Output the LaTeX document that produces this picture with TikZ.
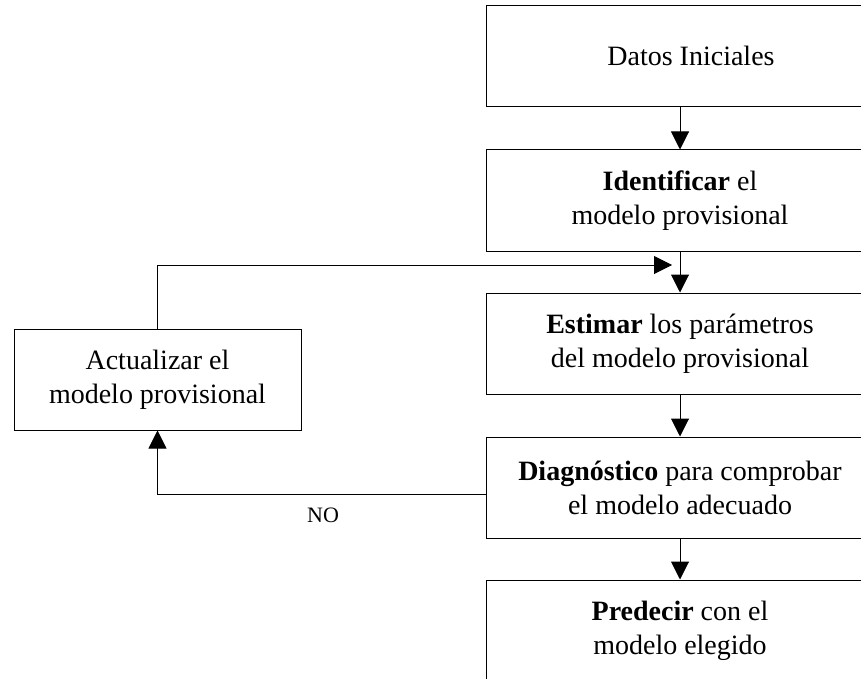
\documentclass[tikz,border=0pt]{standalone}
\usepackage{fontspec}
\setmainfont{Liberation Serif}
\usetikzlibrary{arrows.meta}
\begin{document}
\begin{tikzpicture}[x=1pt,y=-1pt,
  stepbox/.style={draw=black,line width=1pt,fill=white,rectangle,
    minimum width=388pt,minimum height=101pt,inner sep=0pt,align=center,
    font=\fontsize{28}{34}\selectfont},
  sidebox/.style={stepbox,minimum width=287pt},
  flow/.style={line width=1pt,-{Triangle[width=18pt,length=18pt]}},
  lbl/.style={font=\fontsize{22}{26}\selectfont,inner sep=0pt}]
\useasboundingbox (0,0) rectangle (861,679);
\clip (0,0) rectangle (861,679);
\fill[white] (0,0) rectangle (861,679);

% main column
\node[stepbox] (datos) at (680,56) {\hspace*{22pt}Datos Iniciales};
\node[stepbox] (ident) at (680,200.5) {\textbf{Identificar} el\\modelo provisional};
\node[stepbox] (estim) at (680,343.5) {\textbf{Estimar} los parámetros\\del modelo provisional};
\node[stepbox] (diag)  at (680,487.5) {\textbf{Diagnóstico} para comprobar\\el modelo adecuado};
\node[stepbox] (pred)  at (680,630.5) {\textbf{Predecir} con el\\modelo elegido};

% feedback box
\node[sidebox] (act) at (157.5,379.5) {Actualizar el\\modelo provisional};

% downward flow
\draw[flow] (datos) -- (ident);
\draw[flow] (ident) -- (estim);
\draw[flow] (estim) -- (diag);
\draw[flow] (diag) -- (pred);

% loop back
\coordinate (join) at (672,265);
\draw[flow] (act.north) |- (join);
\draw[flow] ([yshift=-6.5pt]diag.west) -| (act.south);
\node[lbl] (no) at (323,515) {NO};
\end{tikzpicture}
\end{document}
